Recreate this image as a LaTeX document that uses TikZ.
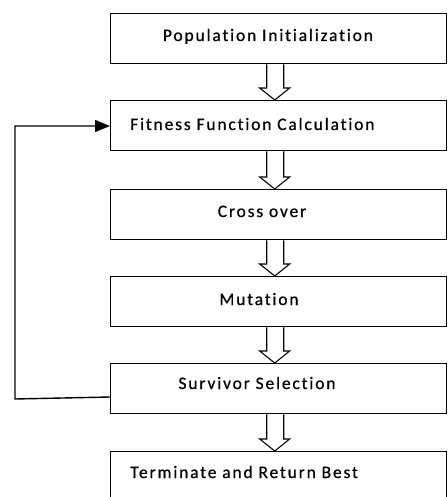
\documentclass[tikz,border=0pt]{standalone}
\usepackage{fontspec}
\setmainfont{Carlito}[LetterSpace=10.5, FakeBold=0.6, Ligatures=NoCommon]
\usetikzlibrary{calc,arrows.meta}
\tikzset{
  stagebox/.style={draw=black, line width=1.4pt, minimum width=336pt, minimum height=50pt, inner sep=0pt, anchor=north west},
  lbl/.style={font=\fontsize{17.5}{20}\selectfont, inner sep=0pt},
  hollow/.style={draw=black, line width=1.1pt, fill=white, line join=miter},
  feedback/.style={draw=black, line width=1.4pt, -{Triangle[length=15pt,width=12pt]}}
}
\newcommand{\hollowarrow}[2]{%
  \draw[hollow] let \p1=(#1.south), \p2=(#2.north) in
    (\x1-12pt,\y1) -- (\x1-12pt,\y2+12pt) -- (\x1-19pt,\y2+12pt) -- (\x1-4pt,\y2)
    -- (\x1+11pt,\y2+12pt) -- (\x1+5pt,\y2+12pt) -- (\x1+5pt,\y1);}
\begin{document}
\begin{tikzpicture}[x=1pt,y=-1pt]
\useasboundingbox (0,0) rectangle (447,497);
\node[stagebox] (b1) at (110,13) {};
\node[stagebox] (b2) at (110,100) {};
\node[stagebox] (b3) at (110,189) {};
\node[stagebox] (b4) at (110,276) {};
\node[stagebox] (b5) at (110,363) {};
\node[stagebox] (b6) at (110,451) {};
\node[lbl, anchor=base] (t1) at (268,41) {Population Initialization};
\node[lbl, anchor=base west] (t2) at (130,130) {Fitness Function Calculation};
\node[lbl, anchor=base] (t3) at (262,217) {Cross over};
\node[lbl, anchor=base] (t4) at (259,305) {Mutation};
\node[lbl, anchor=base] (t5) at (257,389) {Survivor Selection};
\node[lbl, anchor=base west] (t6) at (130,478) {Terminate and Return Best};
\hollowarrow{b1}{b2}
\hollowarrow{b2}{b3}
\hollowarrow{b3}{b4}
\hollowarrow{b4}{b5}
\hollowarrow{b5}{b6}
\coordinate (c1) at (15,399);
\coordinate (c2) at (15,126);
\draw[feedback] (b5.west |- 0,397) -- (c1) -- (c2) -- (b2.west |- c2);
\end{tikzpicture}
\end{document}
